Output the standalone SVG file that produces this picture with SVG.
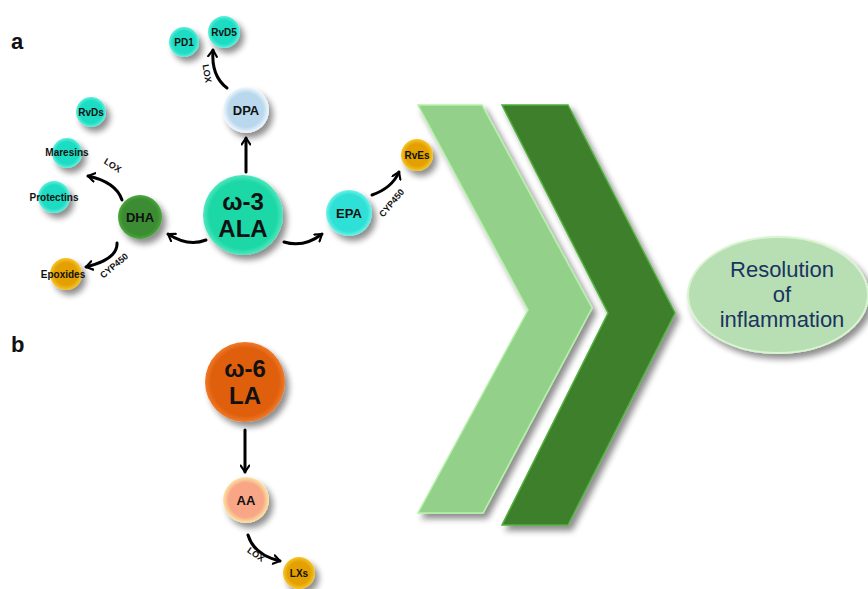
<svg xmlns="http://www.w3.org/2000/svg" width="868" height="589" viewBox="0 0 868 589">
<defs>
<filter id="sh" x="-50%" y="-50%" width="200%" height="200%">
<feGaussianBlur in="SourceAlpha" stdDeviation="3"/>
<feOffset dx="4" dy="5" result="b"/>
<feComponentTransfer><feFuncA type="linear" slope="0.45"/></feComponentTransfer>
<feMerge><feMergeNode/><feMergeNode in="SourceGraphic"/></feMerge>
</filter>
<radialGradient id="gTeal" cx="50%" cy="50%" r="50%"><stop offset="0.75" stop-color="#1fdcc4"/><stop offset="1" stop-color="#5ff0dc"/></radialGradient>
<radialGradient id="gAla" cx="50%" cy="50%" r="50%"><stop offset="0.85" stop-color="#1fd8a6"/><stop offset="1" stop-color="#4fe8bf"/></radialGradient>
<radialGradient id="gEpa" cx="50%" cy="50%" r="50%"><stop offset="0.8" stop-color="#2ee0d6"/><stop offset="1" stop-color="#6ef2e8"/></radialGradient>
<radialGradient id="gDpa" cx="50%" cy="50%" r="50%"><stop offset="0.75" stop-color="#b9d8ee"/><stop offset="1" stop-color="#f2f8fd"/></radialGradient>
<radialGradient id="gDha" cx="50%" cy="50%" r="50%"><stop offset="0.8" stop-color="#3b8c31"/><stop offset="1" stop-color="#4aa83c"/></radialGradient>
<radialGradient id="gGold" cx="50%" cy="50%" r="50%"><stop offset="0.7" stop-color="#e3a000"/><stop offset="1" stop-color="#f6c62a"/></radialGradient>
<radialGradient id="gLa" cx="50%" cy="50%" r="50%"><stop offset="0.85" stop-color="#e05f0c"/><stop offset="1" stop-color="#ef7a2a"/></radialGradient>
<radialGradient id="gAa" cx="50%" cy="50%" r="50%"><stop offset="0.75" stop-color="#f9a686"/><stop offset="1" stop-color="#fbe6a6"/></radialGradient>
<marker id="ah" viewBox="0 0 10 10" refX="7" refY="5" markerWidth="3.6" markerHeight="3.6" orient="auto" markerUnits="strokeWidth">
<path d="M1,1 L7,5 L1,9" fill="none" stroke="#000" stroke-width="2" stroke-linecap="round" stroke-linejoin="round"/>
</marker>
</defs>
<style>
text{font-family:"Liberation Sans",Arial,sans-serif;font-weight:bold;fill:#111;text-anchor:middle}
.big{font-size:24px}
.mid{font-size:13px}
.sm{font-size:10px}
.lab{font-size:9px}
.panel{font-size:22px;text-anchor:start}
.res{font-size:22px;font-weight:normal;fill:#1b3360}
.arr{fill:none;stroke:#000;stroke-width:3;stroke-linecap:round;marker-end:url(#ah)}
</style>
<rect width="868" height="589" fill="#fff"/>

<text class="panel" x="11" y="49">a</text>
<text class="panel" x="11" y="352">b</text>

<g id="chevrons" filter="url(#sh)">
<polygon points="418,105 482,105 592,308 483,513 418,513 528,310" fill="#93d18a" stroke="#b4f2a8" stroke-width="1.5"/>
<polygon points="502,105 568,105 675,313 568,525 502,525 608,313" fill="#3e7f2c" stroke="#4fb03c" stroke-width="1.5"/>
</g>

<g id="resolution">
<ellipse cx="778" cy="295" rx="90" ry="58" fill="#b8dfb3" stroke="#d8f4d0" stroke-width="2" filter="url(#sh)"/>
<text class="res" x="782" y="277">Resolution</text>
<text class="res" x="782" y="302">of</text>
<text class="res" x="782" y="327">inflammation</text>
</g>

<g id="connectors">
<path class="arr" d="M246,172 L246,138"/>
<path class="arr" d="M206,240 Q188,247 168,234"/>
<path class="arr" d="M284,242 Q304,248 322,234"/>
<path class="arr" d="M372,195 Q392,188 399,172"/>
<path class="arr" d="M227,88 Q211,76 213,50"/>
<path class="arr" d="M122,200 Q116,182 88,176"/>
<path class="arr" d="M117,243 Q118,259 86,267"/>
<path class="arr" d="M245,430 L245,472"/>
<path class="arr" d="M248,535 Q254,555 280,561"/>
</g>

<g id="edge-labels">
<text class="lab" transform="translate(204,74) rotate(80)">LOX</text>
<text class="lab" transform="translate(111,168) rotate(32)">LOX</text>
<text class="lab" transform="translate(116,268) rotate(-40)">CYP450</text>
<text class="lab" transform="translate(394,205) rotate(-50)">CYP450</text>
<text class="lab" transform="translate(254,557) rotate(35)">LOX</text>
</g>

<g id="ALA"><circle cx="243" cy="215" r="40" fill="url(#gAla)" filter="url(#sh)"/><text class="big" x="243" y="210">ω-3</text><text class="big" x="243" y="237">ALA</text></g>
<g id="DPA"><circle cx="246" cy="110" r="23" fill="url(#gDpa)" filter="url(#sh)"/><text class="mid" x="246" y="115">DPA</text></g>
<g id="EPA"><circle cx="349" cy="213" r="23" fill="url(#gEpa)" filter="url(#sh)"/><text class="mid" x="349" y="218">EPA</text></g>
<g id="DHA"><circle cx="140" cy="217" r="22" fill="url(#gDha)" filter="url(#sh)"/><text class="mid" x="140" y="222">DHA</text></g>
<g id="RvEs"><circle cx="417" cy="155" r="16" fill="url(#gGold)" filter="url(#sh)"/><text class="sm" x="417" y="159">RvEs</text></g>
<g id="PD1"><circle cx="184" cy="42" r="15" fill="url(#gTeal)" filter="url(#sh)"/><text class="sm" x="184" y="46">PD1</text></g>
<g id="RvD5"><circle cx="224" cy="32" r="16" fill="url(#gTeal)" filter="url(#sh)"/><text class="sm" x="224" y="36">RvD5</text></g>
<g id="RvDs"><circle cx="91" cy="112" r="15" fill="url(#gTeal)" filter="url(#sh)"/><text class="sm" x="91" y="116">RvDs</text></g>
<g id="Maresins"><circle cx="67" cy="153" r="15" fill="url(#gTeal)" filter="url(#sh)"/><text class="sm" x="67" y="156">Maresins</text></g>
<g id="Protectins"><circle cx="54" cy="197" r="16" fill="url(#gTeal)" filter="url(#sh)"/><text class="sm" x="54" y="201">Protectins</text></g>
<g id="Epoxides"><circle cx="66" cy="274" r="16" fill="url(#gGold)" filter="url(#sh)"/><text class="sm" x="63" y="278">Epoxides</text></g>
<g id="LA"><circle cx="245" cy="382" r="40" fill="url(#gLa)" filter="url(#sh)"/><text class="big" x="245" y="377">ω-6</text><text class="big" x="245" y="404">LA</text></g>
<g id="AA"><circle cx="246" cy="500" r="23" fill="url(#gAa)" filter="url(#sh)"/><text class="mid" x="246" y="505">AA</text></g>
<g id="LXs"><circle cx="299" cy="573" r="16" fill="url(#gGold)" filter="url(#sh)"/><text class="sm" x="299" y="577">LXs</text></g>
</svg>
